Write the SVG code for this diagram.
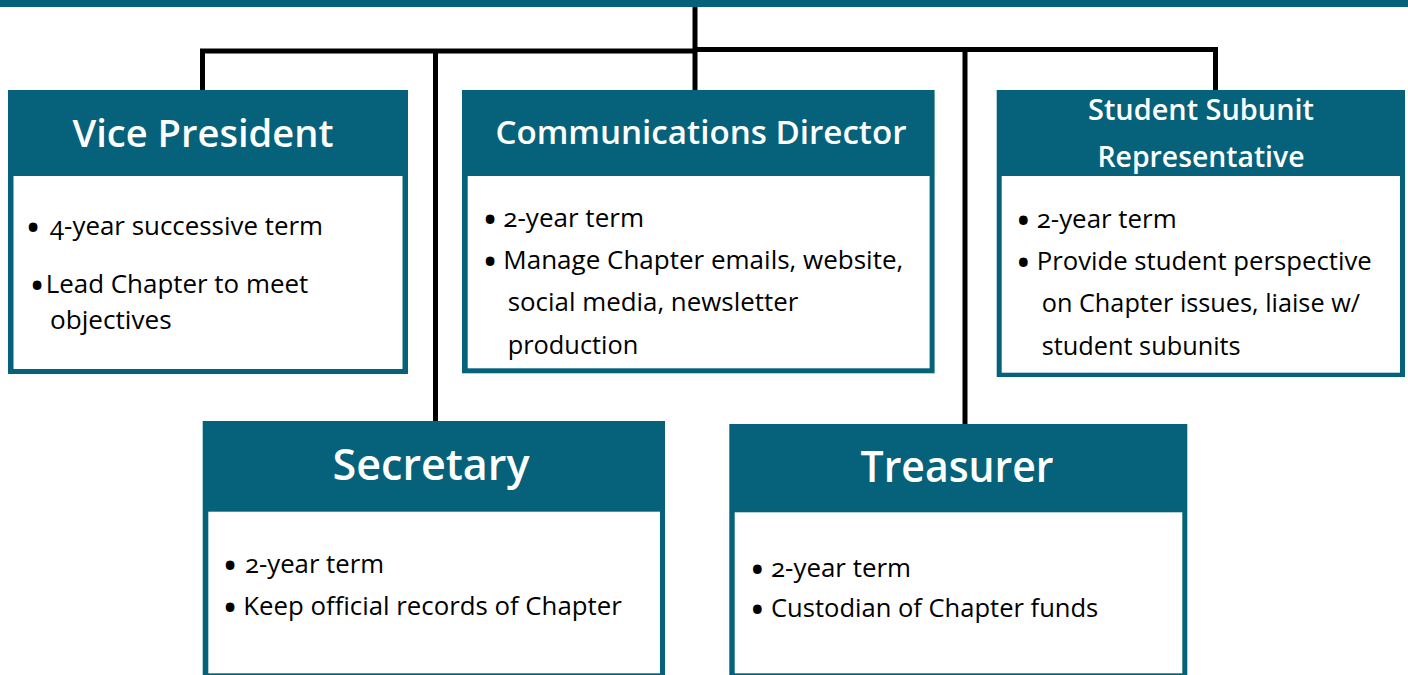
<svg xmlns="http://www.w3.org/2000/svg" width="1408" height="675" viewBox="0 0 1408 675">
<style>
.box{fill:#05627a}
.inner{fill:#ffffff}
.hd{font-family:"Open Sans","Noto Sans","Liberation Sans",sans-serif;font-weight:600;fill:#ffffff;text-anchor:middle}
.bd{font-family:"Open Sans","Noto Sans","Liberation Sans",sans-serif;font-size:26px;fill:#000000;font-variant-numeric:oldstyle-nums}
.bu{font-family:"Open Sans","Noto Sans","Liberation Sans",sans-serif;font-size:31px;font-weight:700;fill:#000000;text-anchor:middle}
.ln{fill:none;stroke:#000000;stroke-width:5;stroke-linejoin:miter}
</style>
<rect width="1408" height="675" fill="#ffffff"/>
<rect id="topbar" x="0" y="0" width="1408" height="7" fill="#05627a"/>
<g id="connectors">
<path class="ln" d="M695 7 V90"/>
<path class="ln" d="M202.5 90 V51 H697"/>
<path class="ln" d="M693 49.5 H1215.5 V90"/>
<path class="ln" d="M435.5 51 V421"/>
<path class="ln" d="M965 49.5 V424"/>
</g>
<g id="vice-president">
<rect class="box" x="8" y="90" width="400" height="284"/>
<rect class="inner" x="13.5" y="176" width="389" height="193"/>
<text class="hd" x="203" y="147" font-size="38" textLength="261" lengthAdjust="spacingAndGlyphs">Vice President</text>
<text class="bu" x="33" y="238">•</text>
<text class="bd" x="50" y="235" textLength="273" lengthAdjust="spacingAndGlyphs">4-year successive term</text>
<text class="bu" x="37" y="296">•</text>
<text class="bd" x="45.7" y="293.3" textLength="262.6" lengthAdjust="spacingAndGlyphs">Lead Chapter to meet</text>
<text class="bd" x="50" y="329" textLength="121.7" lengthAdjust="spacingAndGlyphs">objectives</text>
</g>
<g id="communications-director">
<rect class="box" x="462" y="90" width="472.6" height="283.3"/>
<rect class="inner" x="467.7" y="176" width="461.9" height="192.3"/>
<text class="hd" x="701" y="144" font-size="33" textLength="411" lengthAdjust="spacingAndGlyphs">Communications Director</text>
<text class="bu" x="490" y="230">•</text>
<text class="bd" x="503.3" y="227" textLength="140.7" lengthAdjust="spacingAndGlyphs">2-year term</text>
<text class="bu" x="490" y="272">•</text>
<text class="bd" x="503.3" y="269.3" textLength="400" lengthAdjust="spacingAndGlyphs">Manage Chapter emails, website,</text>
<text class="bd" x="507.7" y="311" textLength="290.6" lengthAdjust="spacingAndGlyphs">social media, newsletter</text>
<text class="bd" x="507.7" y="354" textLength="130.6" lengthAdjust="spacingAndGlyphs">production</text>
</g>
<g id="student-subunit-representative">
<rect class="box" x="996.7" y="90" width="408.3" height="287"/>
<rect class="inner" x="1001.7" y="176" width="398.3" height="196.7"/>
<text class="hd" x="1201" y="120" font-size="29" textLength="226" lengthAdjust="spacingAndGlyphs">Student Subunit</text>
<text class="hd" x="1201" y="166.5" font-size="29" textLength="207" lengthAdjust="spacingAndGlyphs">Representative</text>
<text class="bu" x="1023.3" y="231">•</text>
<text class="bd" x="1036.7" y="228.3" textLength="140" lengthAdjust="spacingAndGlyphs">2-year term</text>
<text class="bu" x="1023.3" y="273">•</text>
<text class="bd" x="1036.7" y="270" textLength="335" lengthAdjust="spacingAndGlyphs">Provide student perspective</text>
<text class="bd" x="1041.7" y="312" textLength="318.3" lengthAdjust="spacingAndGlyphs">on Chapter issues, liaise w/</text>
<text class="bd" x="1041.7" y="354.5" textLength="199" lengthAdjust="spacingAndGlyphs">student subunits</text>
</g>
<g id="secretary">
<rect class="box" x="202.7" y="421" width="462.3" height="258"/>
<rect class="inner" x="208.3" y="511.7" width="451.7" height="161.6"/>
<text class="hd" x="431" y="479.5" font-size="44" textLength="197" lengthAdjust="spacingAndGlyphs">Secretary</text>
<text class="bu" x="230" y="576">•</text>
<text class="bd" x="245" y="573.3" textLength="139" lengthAdjust="spacingAndGlyphs">2-year term</text>
<text class="bu" x="230" y="618">•</text>
<text class="bd" x="243.3" y="615" textLength="378.4" lengthAdjust="spacingAndGlyphs">Keep official records of Chapter</text>
</g>
<g id="treasurer">
<rect class="box" x="729.3" y="424" width="458" height="255"/>
<rect class="inner" x="734.7" y="512.3" width="447.6" height="161"/>
<text class="hd" x="957" y="482" font-size="43" textLength="193" lengthAdjust="spacingAndGlyphs">Treasurer</text>
<text class="bu" x="757.3" y="579.5">•</text>
<text class="bd" x="771" y="576.7" textLength="140" lengthAdjust="spacingAndGlyphs">2-year term</text>
<text class="bu" x="757.3" y="620">•</text>
<text class="bd" x="771" y="617.3" textLength="327.3" lengthAdjust="spacingAndGlyphs">Custodian of Chapter funds</text>
</g>
</svg>
